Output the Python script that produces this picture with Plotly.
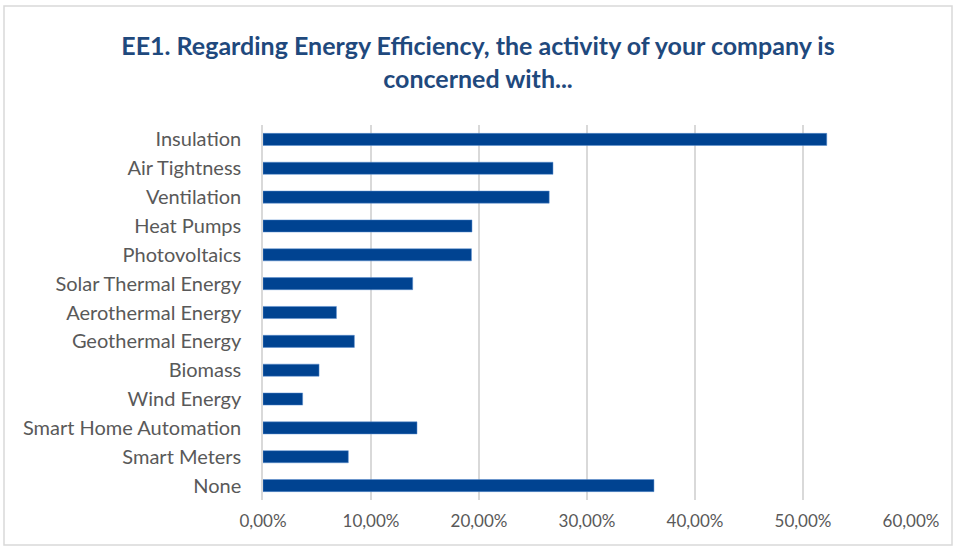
import plotly.graph_objects as go

categories = ["Insulation", "Air Tightness", "Ventilation", "Heat Pumps", "Photovoltaics",
              "Solar Thermal Energy", "Aerothermal Energy", "Geothermal Energy", "Biomass",
              "Wind Energy", "Smart Home Automation", "Smart Meters", "None"]
values = [0.522, 0.2685, 0.265, 0.1935, 0.193, 0.1386, 0.068, 0.0846, 0.0519,
          0.0367, 0.1426, 0.079, 0.362]
title_text = "EE1. Regarding Energy Efficiency, the activity of your company is<br>concerned with..."

W, H = 956, 546
ml, mr, mt, mb = 263, 45, 125, 46

fig = go.Figure(go.Bar(
    x=values, y=categories, orientation="h",
    marker=dict(color="#004391", line=dict(color="#5b8fd0", width=0.5)),
))

pw = W - ml - mr
ph = H - mt - mb
fig.update_layout(
    width=W, height=H,
    margin=dict(l=ml, r=mr, t=mt, b=mb),
    paper_bgcolor="white", plot_bgcolor="white",
    separators=",.",
    bargap=0.58,
    showlegend=False,
    title=dict(text=title_text, x=0.5, xanchor="center", y=1 - 55 / H, yanchor="middle",
               font=dict(family="Lato", size=25, color="#1F497D", weight="bold")),
    font=dict(family="Lato", color="#595959"),
    xaxis=dict(range=[0, 0.6], dtick=0.1, tickformat=".2%", showgrid=True,
               gridcolor="#d9d9d9", gridwidth=1.5, zeroline=False, showline=False,
               ticks="", ticklabelstandoff=9, tickfont=dict(size=17, color="#595959"),
               fixedrange=True),
    yaxis=dict(autorange="reversed", showgrid=False, showline=True, linecolor="#d9d9d9",
               linewidth=1.5, ticks="", ticklabelstandoff=16,
               tickfont=dict(size=20, color="#595959"), fixedrange=True),
    shapes=[dict(type="rect", xref="paper", yref="paper",
                 x0=(4 - ml) / pw, x1=(952 - ml) / pw,
                 y0=(H - mb - 545) / ph, y1=(H - mb - 6) / ph,
                 line=dict(color="#d9d9d9", width=1.5), layer="below")],
)

fig.write_html("out.html", config={"displayModeBar": False},
               post_script="document.body.style.margin='0';")
